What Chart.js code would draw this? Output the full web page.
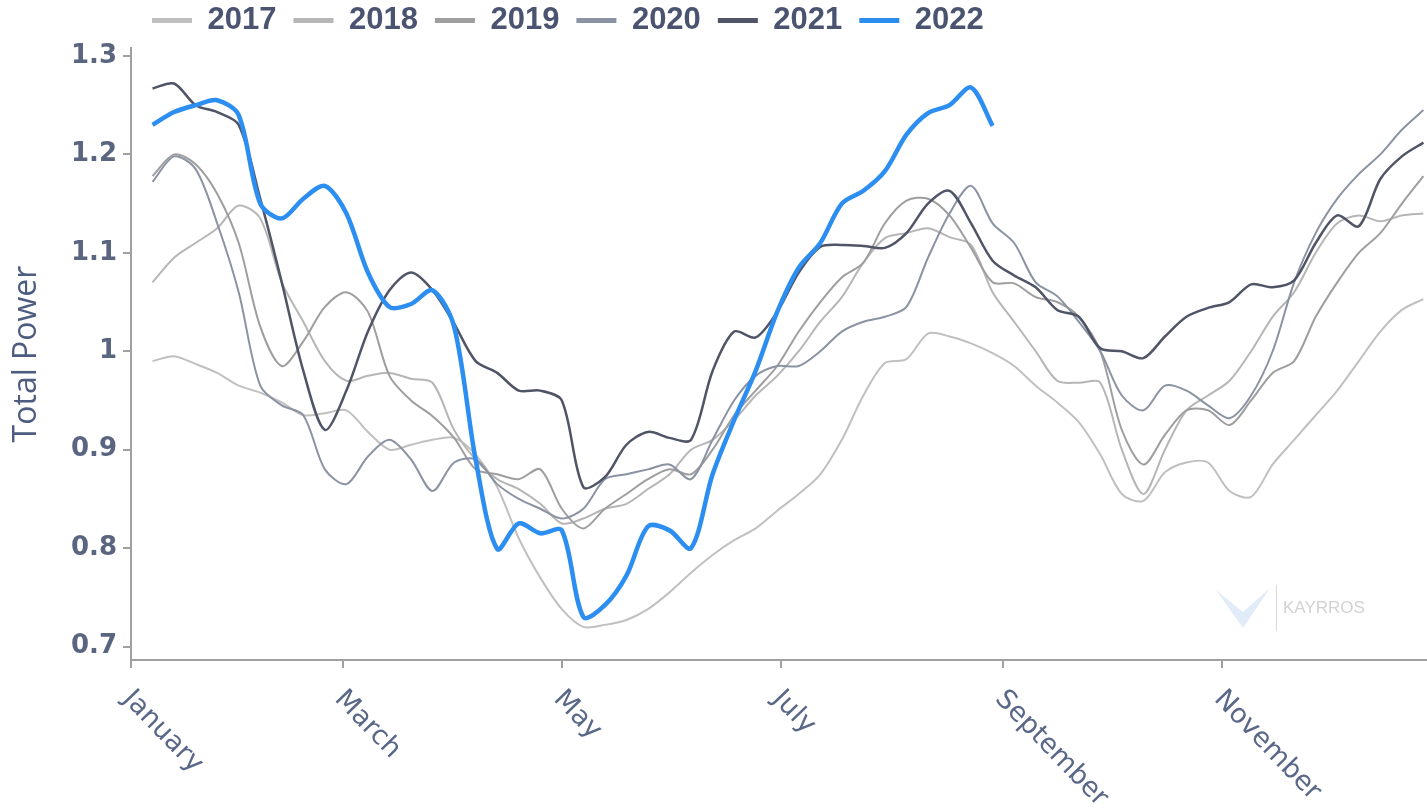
<!DOCTYPE html>
<html>
<head>
<meta charset="utf-8">
<script src="https://cdn.jsdelivr.net/npm/chart.js@4.4.1/dist/chart.umd.min.js"></script>
<style>
  html, body { margin: 0; padding: 0; background: #fff; }
  #wrap { width: 1427px; height: 809px; position: relative; }
</style>
</head>
<body>
<div id="wrap"><canvas id="power"></canvas></div>
<script>
// day of year for each sample (6-day steps)
const days = [6, 12, 18, 24, 30, 36, 42, 48, 54, 60, 66, 72, 78, 84, 90, 96, 102, 108, 114, 120,
    126, 132, 138, 144, 150, 156, 162, 168, 174, 180, 186, 192, 198, 204, 210, 216, 222, 228, 234, 240,
    246, 252, 258, 264, 270, 276, 282, 288, 294, 300, 306, 312, 318, 324, 330, 336, 342, 348, 354, 360];

const monthDays = [0, 59, 120, 181, 243, 304];
const monthLabels = ["January", "March", "May", "July", "September", "November"];
const yTicks = [0.7, 0.8, 0.9, 1, 1.1, 1.2, 1.3];

const years = ["2017", "2018", "2019", "2020", "2021", "2022"];
const colors = ["#c0c0c0", "#b6b6b6", "#9e9e9e", "#8a93a3", "#4f5467", "#2b8ef0"];

const power2017 = [0.99, 0.995, 0.987, 0.978, 0.965, 0.958, 0.948, 0.935, 0.937, 0.94,
    0.918, 0.9, 0.905, 0.91, 0.912, 0.895, 0.862, 0.81, 0.77, 0.738,
    0.72, 0.722, 0.727, 0.738, 0.755, 0.775, 0.793, 0.808, 0.82, 0.838,
    0.855, 0.875, 0.91, 0.955, 0.988, 0.992, 1.018, 1.015, 1.008, 0.998,
    0.985, 0.965, 0.948, 0.928, 0.895, 0.855, 0.848, 0.877, 0.887, 0.887,
    0.858, 0.852, 0.885, 0.91, 0.935, 0.96, 0.99, 1.02, 1.042, 1.053];

const power2018 = [1.07, 1.095, 1.11, 1.125, 1.148, 1.135, 1.07, 1.03, 0.99, 0.97,
    0.975, 0.978, 0.972, 0.968, 0.92, 0.89, 0.87, 0.86, 0.845, 0.825,
    0.83, 0.84, 0.845, 0.86, 0.875, 0.9, 0.91, 0.93, 0.955, 0.975,
    1.0, 1.03, 1.055, 1.09, 1.115, 1.12, 1.125, 1.116, 1.108, 1.06,
    1.03, 1.0, 0.97, 0.968, 0.968, 0.9, 0.855, 0.9, 0.94, 0.955,
    0.97, 1.0, 1.035, 1.06, 1.1, 1.13, 1.138, 1.132, 1.138, 1.14];

const power2019 = [1.178, 1.2, 1.19, 1.16, 1.11, 1.025, 0.985, 1.01, 1.045, 1.06,
    1.04, 0.975, 0.95, 0.934, 0.912, 0.88, 0.875, 0.87, 0.88, 0.84,
    0.82, 0.84, 0.855, 0.87, 0.88, 0.875, 0.9, 0.935, 0.96, 0.985,
    1.02, 1.05, 1.075, 1.09, 1.13, 1.153, 1.155, 1.138, 1.105, 1.07,
    1.069, 1.055, 1.05, 1.035, 1.0, 0.92, 0.885, 0.915, 0.94, 0.94,
    0.925, 0.95, 0.978, 0.99, 1.035, 1.07, 1.1, 1.12, 1.15, 1.178];

const power2020 = [1.172, 1.198, 1.185, 1.13, 1.06, 0.965, 0.945, 0.935, 0.88, 0.865,
    0.893, 0.91, 0.89, 0.858, 0.887, 0.89, 0.865, 0.85, 0.84, 0.83,
    0.84, 0.87, 0.875, 0.88, 0.885, 0.87, 0.91, 0.95, 0.975, 0.985,
    0.985, 1.0, 1.02, 1.03, 1.035, 1.045, 1.095, 1.14, 1.168, 1.13,
    1.11, 1.07, 1.056, 1.03, 1.0, 0.955, 0.94, 0.965, 0.96, 0.945,
    0.932, 0.955, 1.0, 1.07, 1.12, 1.155, 1.18, 1.2, 1.225, 1.245];

const power2021 = [1.267, 1.272, 1.25, 1.243, 1.23, 1.155, 1.07, 0.98, 0.92, 0.96,
    1.02, 1.062, 1.08, 1.062, 1.028, 0.99, 0.978, 0.96, 0.96, 0.95,
    0.862, 0.872, 0.905, 0.918, 0.912, 0.91, 0.98, 1.02, 1.014, 1.04,
    1.08, 1.106, 1.108, 1.107, 1.105, 1.12, 1.15, 1.163, 1.13, 1.092,
    1.077, 1.065, 1.042, 1.035, 1.003, 1.0, 0.993, 1.015, 1.035, 1.044,
    1.05, 1.068, 1.065, 1.072, 1.11, 1.138, 1.127, 1.175, 1.198, 1.212];

// 2022 stops at the end of August
const power2022 = [1.23, 1.243, 1.25, 1.255, 1.24, 1.15, 1.135, 1.155, 1.168, 1.14,
    1.08, 1.045, 1.048, 1.062, 1.025, 0.89, 0.799, 0.825, 0.815, 0.818,
    0.73, 0.742, 0.772, 0.822, 0.818, 0.8, 0.875, 0.93, 0.98, 1.04,
    1.085, 1.11, 1.15, 1.163, 1.183, 1.22, 1.242, 1.25, 1.268, 1.229];

const series = [power2017, power2018, power2019, power2020, power2021, power2022];
const widths = [2, 2, 2, 2, 2.5, 4.5];

const toPoints = (values) => values.map((v, i) => ({ x: days[i], y: v }));

// month names under the x axis, slanted downwards
const slantedMonths = {
    id: "slantedMonths",
    afterDraw(chart) {
        const ctx = chart.ctx;
        const xs = chart.scales.x;
        ctx.save();
        ctx.font = '27px "DejaVu Sans"';
        ctx.fillStyle = "#5a6888";
        ctx.textAlign = "left";
        ctx.textBaseline = "middle";
        monthDays.forEach((d, i) => {
            const px = xs.getPixelForValue(d);
            ctx.save();
            ctx.translate(px - 4, xs.top + 35);
            ctx.rotate(46 * Math.PI / 180);
            ctx.fillText(monthLabels[i], 0, 0);
            ctx.restore();
        });
        ctx.restore();
    }
};

// faint brand mark in the lower right of the plot
const brandMark = {
    id: "brandMark",
    beforeDatasetsDraw(chart) {
        const ctx = chart.ctx;
        ctx.save();
        ctx.fillStyle = "#e1ecf8";
        ctx.beginPath();
        ctx.moveTo(1216, 590);
        ctx.lineTo(1243, 628);
        ctx.lineTo(1243, 612);
        ctx.closePath();
        ctx.fill();
        ctx.beginPath();
        ctx.moveTo(1270, 588);
        ctx.lineTo(1243, 628);
        ctx.lineTo(1243, 612);
        ctx.closePath();
        ctx.fill();
        ctx.strokeStyle = "#d8d8d8";
        ctx.lineWidth = 1;
        ctx.beginPath();
        ctx.moveTo(1276.5, 585);
        ctx.lineTo(1276.5, 631);
        ctx.stroke();
        ctx.fillStyle = "#d2d2d2";
        ctx.font = '17px "Liberation Sans"';
        ctx.textBaseline = "middle";
        ctx.fillText("KAYRROS", 1283, 608);
        ctx.restore();
    }
};

// keep the legend row short and start it over the plot
const legendPlacement = {
    id: "legendPlacement",
    beforeInit(chart) {
        const fit = chart.legend.fit;
        chart.legend.fit = function () {
            fit.call(this);
            this.height = 48;
        };
    },
    afterLayout(chart) {
        chart.legend.left = 135;
        chart.legend.top = -12;
    }
};

new Chart(document.getElementById("power"), {
    type: "line",
    data: {
        datasets: years.map((year, i) => ({
            label: year,
            data: toPoints(series[i]),
            borderColor: colors[i],
            backgroundColor: colors[i],
            borderWidth: widths[i],
            pointRadius: 0,
            tension: 0.3,
            order: years.length - 1 - i,
        })),
    },
    options: {
        responsive: true,
        maintainAspectRatio: false,
        animation: false,
        layout: { padding: 0 },
        plugins: {
            tooltip: { enabled: false },
            legend: {
                display: true,
                position: "top",
                align: "start",
                labels: {
                    boxWidth: 40,
                    boxHeight: 5,
                    padding: 17,
                    color: "#4a5470",
                    font: { family: "Liberation Sans", size: 31, weight: "bold" },
                    sort: (a, b) => a.datasetIndex - b.datasetIndex,
                    generateLabels(chart) {
                        const items = Chart.defaults.plugins.legend.labels.generateLabels(chart);
                        items.forEach((item) => { item.lineWidth = 0; });
                        return items;
                    },
                },
            },
        },
        scales: {
            x: {
                type: "linear",
                min: 0,
                max: 361,
                afterBuildTicks: (scale) => {
                    scale.ticks = monthDays.map((d) => ({ value: d }));
                },
                afterFit: (scale) => { scale.height = 149; },
                ticks: { display: false },
                grid: { drawOnChartArea: false, drawTicks: true, tickLength: 8, color: "#a0a0a0", lineWidth: 2 },
                border: { display: true, color: "#a0a0a0", width: 2 },
            },
            y: {
                min: 0.6863,
                max: 1.3081,
                afterBuildTicks: (scale) => {
                    scale.ticks = yTicks.map((v) => ({ value: v }));
                },
                afterFit: (scale) => { scale.width = 131; },
                ticks: {
                    padding: 6,
                    color: "#5a6580",
                    font: { family: "DejaVu Sans", size: 26, weight: "bold" },
                    callback: (v) => String(+v.toFixed(1)),
                },
                grid: { drawOnChartArea: false, drawTicks: true, tickLength: 8, color: "#a0a0a0", lineWidth: 2 },
                border: { display: true, color: "#a0a0a0", width: 2 },
                title: {
                    display: true,
                    text: "Total Power",
                    color: "#4d5d80",
                    font: { family: "Open Sans", size: 32 },
                    padding: { top: 8, bottom: 0 },
                },
            },
        },
    },
    plugins: [legendPlacement, brandMark, slantedMonths],
});
</script>
</body>
</html>
